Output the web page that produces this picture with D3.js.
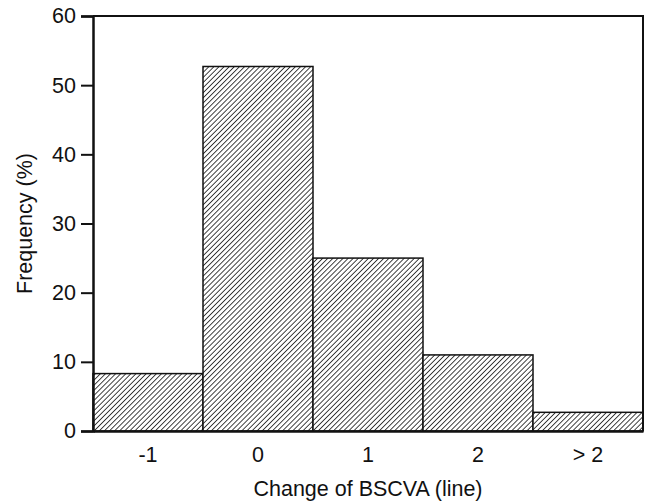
<!DOCTYPE html>
<html><head><meta charset="utf-8">
<script src="https://cdn.jsdelivr.net/npm/d3@7"></script>
<style>body{margin:0;background:#fff}svg{display:block}text{font-family:"Liberation Sans",Arial,sans-serif;fill:#111}</style>
</head><body>
<script>
const categories = ["-1", "0", "1", "2", "> 2"];
const frequency = [8.3, 52.7, 25.0, 11.0, 2.7];
const yTicks = [0, 10, 20, 30, 40, 50, 60];

const W = 649, H = 502;
const m = {left: 93, right: 6, top: 16, bottom: 71};
const FS = 21.5;
const svg = d3.select("body").append("svg").attr("width", W).attr("height", H);
const defs = svg.append("defs");
const P = 3.6;
const pat = defs.append("pattern").attr("id", "hatch").attr("patternUnits", "userSpaceOnUse")
  .attr("width", P).attr("height", P).attr("patternTransform", "rotate(45)");
pat.append("rect").attr("width", P).attr("height", P).attr("fill", "#fff");
pat.append("line").attr("x1", 0).attr("y1", 0).attr("x2", 0).attr("y2", P)
  .attr("stroke", "#222").attr("stroke-width", 1.7);

const x = d3.scaleBand().domain(categories).range([m.left, W - m.right]).padding(0);
const y = d3.scaleLinear().domain([0, 60]).range([H - m.bottom, m.top]);

svg.append("g").selectAll("rect").data(categories).join("rect")
  .attr("x", d => x(d)).attr("width", x.bandwidth())
  .attr("y", (d, i) => y(frequency[i])).attr("height", (d, i) => y(0) - y(frequency[i]))
  .attr("fill", "url(#hatch)").attr("stroke", "#111").attr("stroke-width", 1.5);

// frame top & right
svg.append("path").attr("d", `M${m.left},${m.top}H${W - m.right}V${H - m.bottom}`)
  .attr("fill", "none").attr("stroke", "#111").attr("stroke-width", 2);

const ya = svg.append("g").attr("transform", `translate(${m.left},0)`)
  .call(d3.axisLeft(y).tickValues(yTicks).tickSize(12).tickPadding(5).tickFormat(d3.format("d")));
ya.select(".domain").attr("stroke-width", 2.5).attr("stroke", "#111");
ya.selectAll(".tick line").attr("stroke-width", 2).attr("stroke", "#111");
ya.selectAll("text").attr("font-size", FS).style("font-family", '"Liberation Sans",Arial,sans-serif').attr("fill", "#111");

const xa = svg.append("g").attr("transform", `translate(0,${H - m.bottom})`)
  .call(d3.axisBottom(x).tickSize(0).tickPadding(16));
xa.select(".domain").attr("stroke-width", 2.5).attr("stroke", "#111");
xa.selectAll("text").attr("font-size", FS).style("font-family", '"Liberation Sans",Arial,sans-serif').attr("fill", "#111");

svg.append("text").attr("x", 368).attr("y", 496).attr("text-anchor", "middle")
  .attr("font-size", FS).text("Change of BSCVA (line)");
svg.append("text").attr("transform", `translate(32,${(m.top + H - m.bottom) / 2}) rotate(-90)`)
  .attr("text-anchor", "middle").attr("font-size", FS).text("Frequency (%)");
</script>
</body></html>
